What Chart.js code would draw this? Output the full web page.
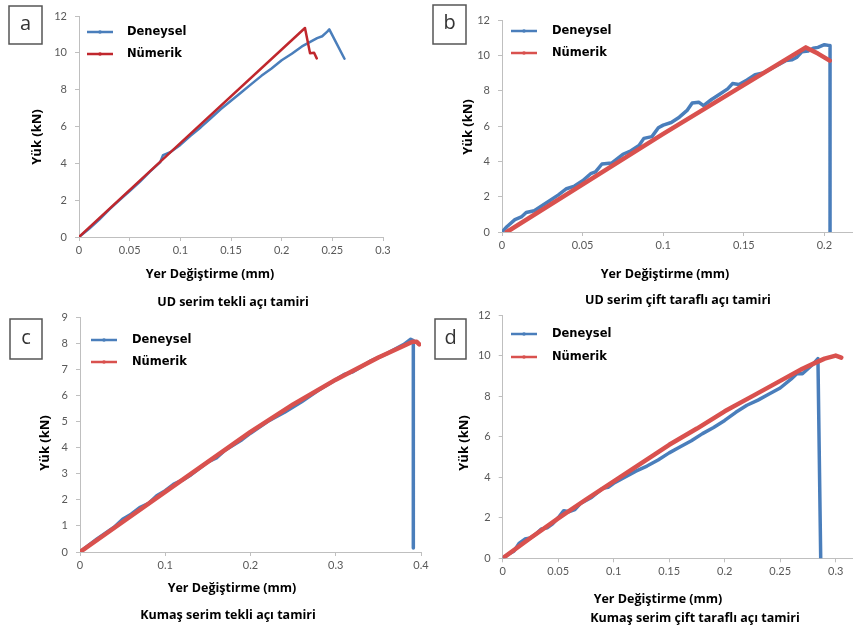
<!DOCTYPE html>
<html>
<head>
<meta charset="utf-8">
<script src="https://cdn.jsdelivr.net/npm/chart.js@4.4.0/dist/chart.umd.min.js"></script>
<style>
  html, body { margin: 0; padding: 0; background: #fff; width: 853px; height: 635px; overflow: hidden; position: relative; }
  canvas { position: absolute; }
</style>
</head>
<body>
<canvas id="chartA"></canvas>
<canvas id="chartB"></canvas>
<canvas id="chartC"></canvas>
<canvas id="chartD"></canvas>
<script>
'use strict';

// load / displacement readings, [displacement (mm), load (kN)]
const deneyselA = [
  [0, 0], [0.01, 0.45], [0.02, 0.95], [0.03, 1.5], [0.04, 2.0], [0.05, 2.5], [0.06, 3.0],
  [0.07, 3.55], [0.08, 4.05], [0.083, 4.45], [0.09, 4.6], [0.1, 5.0], [0.11, 5.5], [0.12, 5.95],
  [0.13, 6.45], [0.14, 6.95], [0.15, 7.4], [0.16, 7.85], [0.17, 8.3], [0.18, 8.75], [0.19, 9.15],
  [0.2, 9.6], [0.21, 9.95], [0.22, 10.35], [0.225, 10.5], [0.23, 10.65], [0.235, 10.8],
  [0.24, 10.9], [0.245, 11.15], [0.247, 11.27], [0.262, 9.68],
];
const numerikA = [
  [0, 0], [0.1, 5.1], [0.223, 11.35], [0.228, 9.98], [0.232, 10.0], [0.2346, 9.7],
];

const deneyselB = [
  [0, 0], [0.003, 0.3], [0.008, 0.7], [0.012, 0.85], [0.015, 1.1], [0.02, 1.2], [0.025, 1.5],
  [0.03, 1.8], [0.035, 2.1], [0.04, 2.45], [0.045, 2.6], [0.05, 2.9], [0.055, 3.3], [0.058, 3.4],
  [0.062, 3.85], [0.068, 3.9], [0.075, 4.4], [0.08, 4.6], [0.085, 4.9], [0.088, 5.3], [0.093, 5.4],
  [0.097, 5.9], [0.1, 6.05], [0.105, 6.2], [0.11, 6.5], [0.115, 6.9], [0.118, 7.3], [0.122, 7.35],
  [0.125, 7.15], [0.13, 7.5], [0.135, 7.8], [0.14, 8.1], [0.143, 8.4], [0.147, 8.35], [0.152, 8.6],
  [0.157, 8.9], [0.162, 9.0], [0.168, 9.3], [0.172, 9.5], [0.176, 9.7], [0.18, 9.75], [0.183, 9.9],
  [0.186, 10.2], [0.19, 10.25], [0.193, 10.4], [0.196, 10.45], [0.2, 10.6], [0.2035, 10.55],
  [0.2035, 0],
];
const numerikB = [
  [0.003, 0], [0.1, 5.55], [0.1885, 10.45], [0.196, 10.1], [0.2033, 9.7],
];

const deneyselC = [
  [0, 0], [0.02, 0.5], [0.04, 0.95], [0.05, 1.25], [0.06, 1.45], [0.07, 1.7], [0.08, 1.85],
  [0.09, 2.15], [0.1, 2.35], [0.11, 2.6], [0.12, 2.75], [0.13, 2.95], [0.14, 3.2], [0.15, 3.45],
  [0.16, 3.6], [0.17, 3.9], [0.18, 4.1], [0.19, 4.3], [0.2, 4.55], [0.22, 5.0], [0.24, 5.35],
  [0.26, 5.75], [0.28, 6.2], [0.3, 6.6], [0.31, 6.8], [0.32, 6.9], [0.34, 7.3], [0.36, 7.6],
  [0.38, 7.95], [0.388, 8.15], [0.391, 8.1], [0.391, 0.15],
];
const numerikC = [
  [0, 0], [0.05, 1.15], [0.1, 2.3], [0.15, 3.45], [0.2, 4.6], [0.25, 5.65], [0.3, 6.6],
  [0.35, 7.45], [0.38, 7.9], [0.39, 8.05], [0.395, 8.05], [0.398, 7.95],
];

const deneyselD = [
  [0, 0], [0.005, 0.2], [0.01, 0.35], [0.015, 0.75], [0.02, 0.95], [0.025, 1.0], [0.03, 1.2],
  [0.035, 1.45], [0.04, 1.5], [0.045, 1.7], [0.05, 2.0], [0.055, 2.35], [0.06, 2.3], [0.065, 2.4],
  [0.07, 2.7], [0.075, 2.85], [0.08, 3.0], [0.09, 3.45], [0.095, 3.5], [0.1, 3.7], [0.11, 4.0],
  [0.12, 4.3], [0.13, 4.55], [0.14, 4.85], [0.15, 5.2], [0.16, 5.5], [0.17, 5.8], [0.18, 6.15],
  [0.19, 6.45], [0.2, 6.8], [0.21, 7.2], [0.22, 7.55], [0.23, 7.8], [0.24, 8.1], [0.25, 8.4],
  [0.26, 8.85], [0.265, 9.1], [0.27, 9.1], [0.275, 9.35], [0.28, 9.6], [0.284, 9.85], [0.2865, 0],
];
const numerikD = [
  [0, 0], [0.025, 1.0], [0.05, 1.97], [0.075, 2.9], [0.1, 3.8], [0.125, 4.7], [0.15, 5.6],
  [0.175, 6.4], [0.2, 7.25], [0.225, 8.0], [0.25, 8.75], [0.27, 9.35], [0.28, 9.6], [0.29, 9.85],
  [0.3, 10.0], [0.305, 9.9],
];

const seriesLabels = ['Deneysel', 'Nümerik'];
const xAxisTitle = 'Yer Değiştirme (mm)';
const yAxisTitle = 'Yük (kN)';

const BLUE = '#4a7ebb';
const TICK_FONT = { family: 'Lato', size: 11 };
const AXIS_GREY = '#bfbfbf';

// page boxes (px) for each canvas, its plot area and the text around it
const panels = [
  {
    id: 'chartA', letter: 'a', subtitle: 'UD serim tekli açı tamiri',
    data: [deneyselA, numerikA], red: '#c0272d', widths: [2.5, 2.5],
    xMax: 0.3, xStep: 0.05, yMax: 12, yStep: 2,
    canvas: { x: 0, y: 0, w: 430, h: 312 },
    area: { l: 79, r: 383, t: 16, b: 237 },
    box: { x: 9, y: 6, w: 33, h: 38 },
    yTitle: { x: 37, y: 137 }, xTitle: { x: 210, y: 274 }, sub: { x: 233, y: 302 },
    legend: { x1: 87, x2: 113, y: 32, gap: 22, tx: 127 },
  },
  {
    id: 'chartB', letter: 'b', subtitle: 'UD serim çift taraflı açı tamiri',
    data: [deneyselB, numerikB], red: '#d9514e', widths: [3.5, 4.5],
    xMax: 0.25, xStep: 0.05, yMax: 12, yStep: 2,
    canvas: { x: 426, y: 0, w: 500, h: 312 },
    area: { l: 502, r: 905, t: 20, b: 232 },
    box: { x: 433, y: 5, w: 33, h: 39 },
    yTitle: { x: 468, y: 127 }, xTitle: { x: 665, y: 274 }, sub: { x: 678, y: 300 },
    legend: { x1: 511, x2: 537, y: 31, gap: 22, tx: 552 },
  },
  {
    id: 'chartC', letter: 'c', subtitle: 'Kumaş serim tekli açı tamiri',
    data: [deneyselC, numerikC], red: '#d9514e', widths: [3.5, 4.5],
    xMax: 0.4, xStep: 0.1, yMax: 9, yStep: 1,
    canvas: { x: 0, y: 305, w: 440, h: 330 },
    area: { l: 80, r: 421, t: 317, b: 552 },
    box: { x: 10, y: 319, w: 32, h: 40 },
    yTitle: { x: 45, y: 443 }, xTitle: { x: 232, y: 588 }, sub: { x: 228, y: 615 },
    legend: { x1: 91, x2: 117, y: 340, gap: 22, tx: 132 },
  },
  {
    id: 'chartD', letter: 'd', subtitle: 'Kumaş serim çift taraflı açı tamiri',
    data: [deneyselD, numerikD], red: '#d9514e', widths: [3.5, 4.5],
    xMax: 0.35, xStep: 0.05, yMax: 12, yStep: 2,
    canvas: { x: 426, y: 303, w: 500, h: 332 },
    area: { l: 502.7, r: 891.2, t: 315, b: 558.3 },
    box: { x: 435, y: 319, w: 31, h: 40 },
    yTitle: { x: 464, y: 443 }, xTitle: { x: 658, y: 599 }, sub: { x: 695, y: 618 },
    legend: { x1: 511, x2: 537, y: 334, gap: 23, tx: 552 },
  },
];

// letter box, axis titles, caption and legend, positioned in page px
const panelDecor = {
  id: 'panelDecor',
  afterDraw(chart, args, p) {
    const ctx = chart.ctx;
    const ox = p.canvas.x, oy = p.canvas.y;
    ctx.save();

    ctx.strokeStyle = '#555';
    ctx.lineWidth = 1.5;
    ctx.strokeRect(p.box.x - ox, p.box.y - oy, p.box.w, p.box.h);
    ctx.fillStyle = '#333';
    ctx.font = '20px "Open Sans"';
    ctx.textAlign = 'center';
    ctx.textBaseline = 'middle';
    ctx.fillText(p.letter, p.box.x - ox + p.box.w / 2, p.box.y - oy + p.box.h / 2 - 1);

    ctx.fillStyle = '#000';
    ctx.font = 'bold 12.5px "Open Sans"';
    ctx.fillText(xAxisTitle, p.xTitle.x - ox, p.xTitle.y - oy);
    ctx.fillText(p.subtitle, p.sub.x - ox, p.sub.y - oy);

    ctx.save();
    ctx.font = 'bold 13px "Open Sans"';
    ctx.translate(p.yTitle.x - ox, p.yTitle.y - oy);
    ctx.rotate(-Math.PI / 2);
    ctx.fillText(yAxisTitle, 0, 0);
    ctx.restore();

    // legend: a short line with a small marker, then the series name
    ctx.textAlign = 'left';
    ctx.font = 'bold 11.5px "DejaVu Sans"';
    chart.data.datasets.forEach((ds, i) => {
      const y = p.legend.y + i * p.legend.gap - oy;
      ctx.strokeStyle = ds.borderColor;
      ctx.lineWidth = 2.5;
      ctx.beginPath();
      ctx.moveTo(p.legend.x1 - ox, y);
      ctx.lineTo(p.legend.x2 - ox, y);
      ctx.stroke();
      ctx.fillStyle = ds.borderColor;
      ctx.beginPath();
      ctx.arc((p.legend.x1 + p.legend.x2) / 2 - ox, y, 1.8, 0, Math.PI * 2);
      ctx.fill();
      ctx.fillStyle = '#000';
      ctx.fillText(ds.label, p.legend.tx - ox, y);
    });
    ctx.restore();
  },
};

function tickLabel(value) {
  return String(+value.toFixed(3));
}

function buildChart(p) {
  const el = document.getElementById(p.id);
  el.width = p.canvas.w;
  el.height = p.canvas.h;
  el.style.left = p.canvas.x + 'px';
  el.style.top = p.canvas.y + 'px';

  const yAxisWidth = p.area.l - p.canvas.x;
  const xAxisHeight = p.canvas.y + p.canvas.h - p.area.b;

  return new Chart(el, {
    type: 'scatter',
    data: {
      datasets: [
        {
          label: seriesLabels[0],
          data: p.data[0].map(([x, y]) => ({ x, y })),
          borderColor: BLUE,
          backgroundColor: BLUE,
          borderWidth: p.widths[0],
          order: 1,
        },
        {
          label: seriesLabels[1],
          data: p.data[1].map(([x, y]) => ({ x, y })),
          borderColor: p.red,
          backgroundColor: p.red,
          borderWidth: p.widths[1],
          order: 0,
        },
      ],
    },
    options: {
      responsive: false,
      animation: false,
      devicePixelRatio: 1,
      showLine: true,
      elements: {
        point: { radius: 0, hoverRadius: 0 },
        line: { tension: 0, borderJoinStyle: 'round', borderCapStyle: 'round' },
      },
      layout: {
        padding: { left: 0, top: p.area.t - p.canvas.y, right: p.canvas.x + p.canvas.w - p.area.r, bottom: 0 },
      },
      scales: {
        x: {
          type: 'linear',
          min: 0,
          max: p.xMax,
          ticks: { stepSize: p.xStep, color: '#595959', font: TICK_FONT, padding: 3, maxRotation: 0, autoSkip: false, callback: tickLabel },
          grid: { drawOnChartArea: false, drawTicks: true, tickLength: 4, color: AXIS_GREY },
          border: { color: AXIS_GREY, width: 1 },
          afterFit(scale) {
            scale.height = xAxisHeight;
            scale.paddingLeft = 0;
            scale.paddingRight = 0;
          },
        },
        y: {
          type: 'linear',
          min: 0,
          max: p.yMax,
          ticks: { stepSize: p.yStep, color: '#595959', font: TICK_FONT, padding: 8, callback: tickLabel },
          grid: { drawOnChartArea: false, drawTicks: true, tickLength: 4, color: AXIS_GREY },
          border: { color: AXIS_GREY, width: 1 },
          afterFit(scale) {
            scale.width = yAxisWidth;
            scale.paddingTop = 0;
            scale.paddingBottom = 0;
          },
        },
      },
      plugins: {
        legend: { display: false },
        tooltip: { enabled: false },
        panelDecor: p,
      },
    },
    plugins: [panelDecor],
  });
}

panels.forEach(buildChart);
</script>
</body>
</html>
